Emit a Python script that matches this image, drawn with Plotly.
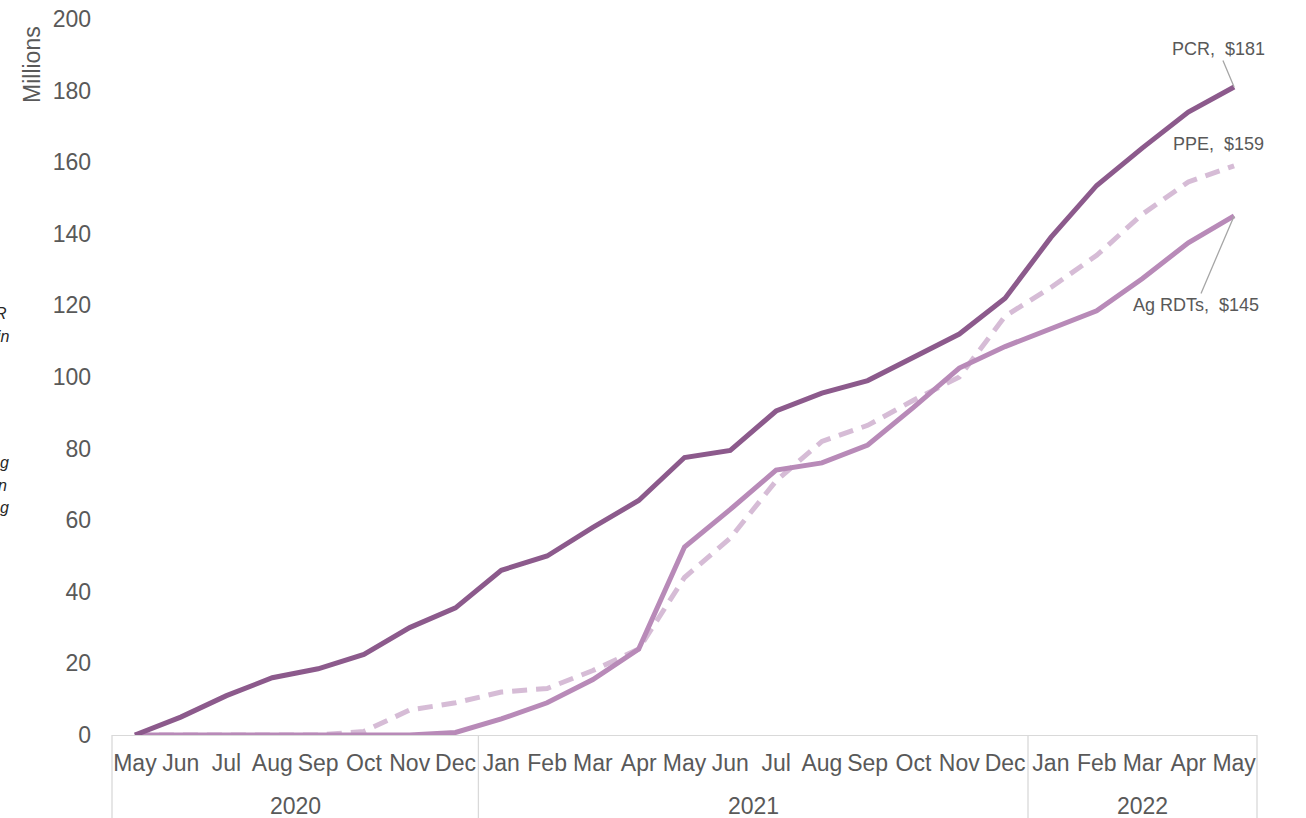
import plotly.graph_objects as go

months = ["May", "Jun", "Jul", "Aug", "Sep", "Oct", "Nov", "Dec",
          "Jan", "Feb", "Mar", "Apr", "May", "Jun", "Jul", "Aug", "Sep", "Oct", "Nov", "Dec",
          "Jan", "Feb", "Mar", "Apr", "May"]
years = ["2020", "2021", "2022"]
year_counts = [8, 12, 5]

pcr = [0, 5, 11, 16, 18.5, 22.5, 30, 35.5, 46, 50, 58, 65.5, 77.5, 79.5, 90.5, 95.5,
       99, 105.5, 112, 122, 139, 153.5, 164, 174, 181]
ag_rdts = [0, 0, 0, 0, 0, 0, 0, 0.7, 4.5, 9, 15.5, 24, 52.5, 63, 74, 76, 81, 91.5,
           102.5, 108.5, 113.5, 118.5, 127.5, 137.5, 145]
ppe = [0, 0, 0, 0, 0, 1, 7, 9, 12, 13, 18, 24, 44, 55, 71, 82, 86.5, 93.5, 100, 117,
       125, 134, 145.5, 154.5, 159]

y_ticks = [0, 20, 40, 60, 80, 100, 120, 140, 160, 180, 200]

FONT = "Liberation Sans, Arial, sans-serif"
GREY = "#595959"
C_PCR = "#8C5A8C"
C_AG = "#B88AB8"
C_PPE = "#D6BCD6"

x = list(range(len(months)))
n = len(months)

fig = go.Figure()
fig.add_trace(go.Scatter(x=x, y=ppe, mode="lines", name="PPE",
                         line=dict(color=C_PPE, width=5, dash="15px,9px")))
fig.add_trace(go.Scatter(x=x, y=ag_rdts, mode="lines", name="Ag RDTs",
                         line=dict(color=C_AG, width=5)))
fig.add_trace(go.Scatter(x=x, y=pcr, mode="lines", name="PCR",
                         line=dict(color=C_PCR, width=5)))

W, H = 1306, 818
L, T, R, B = 112, 19, 49, 83
pw = W - L - R
ph = H - T - B

def px_to_paper_y(py):
    return (H - B - py) / ph

def px_to_paper_x(px):
    return (px - L) / pw

annotations = []
# Series end labels
annotations.append(dict(x=n - 1, y=pcr[-1], xref="x", yref="y",
                        text=f"PCR,  ${pcr[-1]:.0f}", showarrow=True, arrowhead=0,
                        arrowwidth=1.3, arrowcolor="#A6A6A6", ax=-16, ay=-38, standoff=0,
                        font=dict(family=FONT, size=18, color=GREY)))
annotations.append(dict(x=n - 1, y=ppe[-1], xref="x", yref="y",
                        text=f"PPE,  ${ppe[-1]:.0f}", showarrow=False,
                        xshift=-16, yshift=22,
                        font=dict(family=FONT, size=18, color=GREY)))
annotations.append(dict(x=n - 1, y=ag_rdts[-1], xref="x", yref="y",
                        text=f"Ag RDTs,  ${ag_rdts[-1]:.0f}", showarrow=True, arrowhead=0,
                        arrowwidth=1.3, arrowcolor="#A6A6A6", ax=-38, ay=89, standoff=0,
                        font=dict(family=FONT, size=18, color=GREY)))

# Y axis title
annotations.append(dict(x=px_to_paper_x(32), y=px_to_paper_y(65), xref="paper", yref="paper",
                        xanchor="center", yanchor="middle",
                        text="Millions", textangle=-90, showarrow=False,
                        font=dict(family=FONT, size=23, color=GREY)))

# Year group labels and dividers
shapes = []
start = 0
bounds = [0]
for yr, cnt in zip(years, year_counts):
    center = start + (cnt - 1) / 2
    annotations.append(dict(x=(center + 0.5) / n, y=px_to_paper_y(806), xref="paper",
                            yref="paper", xanchor="center", yanchor="middle",
                            text=yr, showarrow=False,
                            font=dict(family=FONT, size=23, color=GREY)))
    start += cnt
    bounds.append(start)
for b in bounds:
    xp = b / n
    shapes.append(dict(type="line", xref="paper", yref="paper", x0=xp, x1=xp,
                       y0=0, y1=px_to_paper_y(830), line=dict(color="#D9D9D9", width=1.3)))

# Cropped side text fragments at left edge
for txt, py, pxr in [("R", 313, 9), ("in", 336, 12), ("g", 463, 11), ("n", 485, 9), ("g", 507, 11)]:
    annotations.append(dict(x=px_to_paper_x(pxr), y=px_to_paper_y(py), xref="paper",
                            yref="paper", text=f"<i>{txt}</i>", showarrow=False,
                            xanchor="right", yanchor="middle",
                            font=dict(family=FONT, size=16, color="#262626")))

fig.update_layout(
    width=W, height=H,
    margin=dict(l=L, r=R, t=T, b=B, autoexpand=False),
    paper_bgcolor="white", plot_bgcolor="white",
    showlegend=False,
    font=dict(family=FONT, color=GREY),
    annotations=annotations,
    shapes=shapes,
    xaxis=dict(range=[-0.5, n - 0.5], tickvals=x, ticktext=months, showgrid=False,
               zeroline=False, showline=True, linecolor="#D9D9D9", linewidth=1.3,
               ticks="outside", ticklen=7, tickcolor="rgba(0,0,0,0)", automargin=False,
               tickfont=dict(family=FONT, size=23, color=GREY), fixedrange=True),
    yaxis=dict(range=[0, 200], tickvals=y_ticks, showgrid=False, zeroline=False,
               showline=False, ticks="", ticklabelstandoff=20, ticklabeloverflow="allow",
               automargin=False,
               tickfont=dict(family=FONT, size=23, color=GREY), fixedrange=True),
)

fig.write_html("out.html", config={"displayModeBar": False},
               post_script="document.body.style.margin='0';document.body.style.overflow='hidden';")
